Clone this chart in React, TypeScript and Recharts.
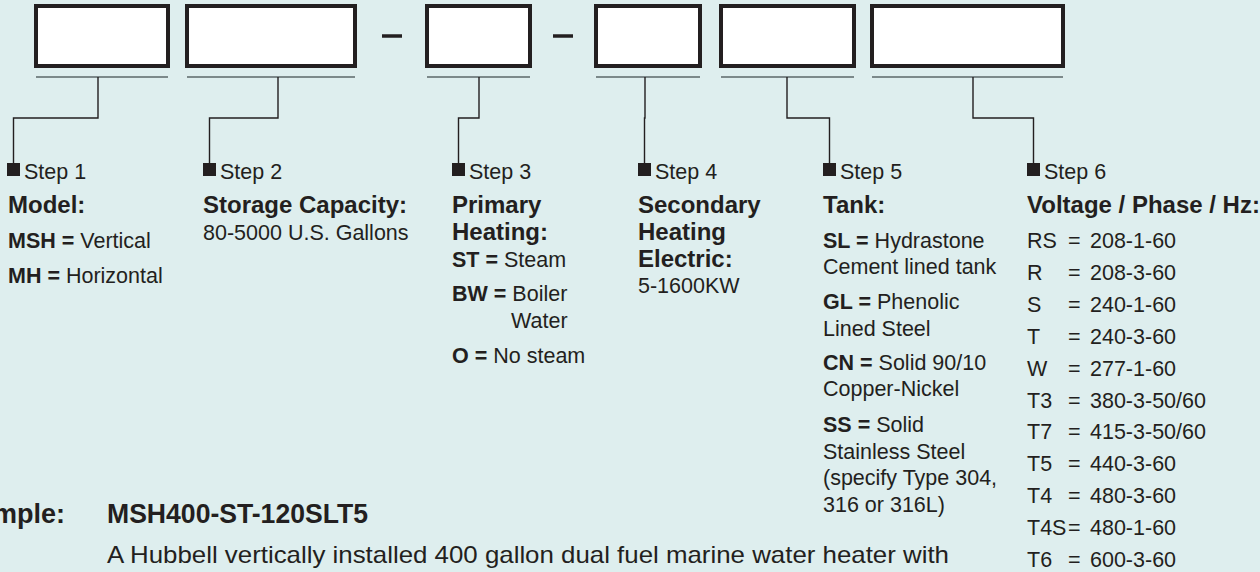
import React from "react";
import {
  ComposedChart,
  XAxis,
  YAxis,
  Line,
  Scatter,
  ReferenceArea,
  ReferenceLine,
} from "recharts";

const W = 1260;
const H = 572;
const INK = "#231f20";
const RULE = "#5b6769";
const BG = "#deeeee";
const FONT = "'Liberation Sans', Arial, Helvetica, sans-serif";
const NARROW = "'Liberation Sans Narrow', 'Liberation Sans', Arial, sans-serif";

// ---- content ----
const stepLabels = ["Step 1", "Step 2", "Step 3", "Step 4", "Step 5", "Step 6"];
const stepHeadings = [
  ["Model:"],
  ["Storage Capacity:"],
  ["Primary", "Heating:"],
  ["Secondary", "Heating", "Electric:"],
  ["Tank:"],
  ["Voltage / Phase / Hz:"],
];
const modelOptions = [
  { code: "MSH =", text: ["Vertical"] },
  { code: "MH =", text: ["Horizontal"] },
];
const capacityRange = "80-5000 U.S. Gallons";
const primaryOptions = [
  { code: "ST =", text: ["Steam"] },
  { code: "BW =", text: ["Boiler", "Water"] },
  { code: "O =", text: ["No steam"] },
];
const secondaryRange = "5-1600KW";
const tankOptions = [
  { code: "SL =", text: ["Hydrastone", "Cement lined tank"] },
  { code: "GL =", text: ["Phenolic", "Lined Steel"] },
  { code: "CN =", text: ["Solid 90/10", "Copper-Nickel"] },
  { code: "SS =", text: ["Solid", "Stainless Steel", "(specify Type 304,", "316 or 316L)"] },
];
const voltageCodes = ["RS", "R", "S", "T", "W", "T3", "T7", "T5", "T4", "T4S", "T6"];
const voltageValues = [
  "208-1-60", "208-3-60", "240-1-60", "240-3-60", "277-1-60", "380-3-50/60",
  "415-3-50/60", "440-3-60", "480-3-60", "480-1-60", "600-3-60",
];
const exampleLabel = "Example:";
const exampleCode = "MSH400-ST-120SLT5";
const exampleText =
  "A Hubbell vertically installed 400 gallon dual fuel marine water heater with";

// ---- layout ----
const BOX_L = [34, 185, 425, 594, 719, 870];
const BOX_R = [170, 357, 532, 702, 856, 1065];
const BOX_TOP = 4;
const BOX_BOT = 68;
const BORDER = 4;
const RULE_Y = 77;
const ELBOW_Y = 118;
const DROP_X = [98, 278, 479, 645, 787, 973];
const COL_X = [7, 203, 452, 638, 823, 1027];
const MARK = 13;
const MARK_TOP = 163;
const DASH_X = [[382, 402], [553, 573]];
const DASH_Y = 36;
const STEP_Y = 179;
const HEAD_Y = [213, 240, 267];
const MODEL_Y = [[248], [283]];
const CAPACITY_Y = 240;
const PRIMARY_Y = [[267], [301, 328], [363]];
const PRIMARY_INDENT = 511;
const SECONDARY_Y = 293;
const TANK_Y = [[248, 274], [309, 336], [370, 396], [432, 459, 485, 512]];
const VOLT_Y0 = 248;
const VOLT_STEP = 31.9;
const EXAMPLE_Y = 523;
const EXAMPLE_X = 107;
const EXAMPLE_TEXT_Y = 563;

type TextRow = { x: number; y: number; code?: string; text: string };

function optionRows(
  colX: number,
  opts: { code: string; text: string[] }[],
  ys: number[][],
  indent?: number
): TextRow[] {
  const rows: TextRow[] = [];
  opts.forEach((o, i) => {
    o.text.forEach((t, j) => {
      if (j === 0) rows.push({ x: colX, y: ys[i][j], code: o.code, text: " " + t });
      else rows.push({ x: indent ?? colX, y: ys[i][j], text: t });
    });
  });
  return rows;
}

const bodyRows: TextRow[] = [
  ...optionRows(COL_X[0] + 1, modelOptions, MODEL_Y),
  { x: COL_X[1], y: CAPACITY_Y, text: capacityRange },
  ...optionRows(COL_X[2], primaryOptions, PRIMARY_Y, PRIMARY_INDENT),
  { x: COL_X[3], y: SECONDARY_Y, text: secondaryRange },
  ...optionRows(COL_X[4], tankOptions, TANK_Y),
];

const headRows: TextRow[] = stepHeadings.flatMap((lines, i) =>
  lines.map((t, j) => ({ x: COL_X[i] + (i === 0 ? 1 : 0), y: HEAD_Y[j], text: t }))
);

const stepRows: TextRow[] = stepLabels.map((t, i) => ({
  x: COL_X[i] + MARK + 4,
  y: STEP_Y,
  text: t,
}));

const markers = COL_X.map((x) => ({ x: x + MARK / 2, y: MARK_TOP + MARK / 2 }));

const voltRows = voltageCodes.map((c, i) => ({
  x: COL_X[5],
  y: VOLT_Y0 + VOLT_STEP * i,
  code: c,
  text: voltageValues[i],
}));

const connectors = DROP_X.map((dx, i) => {
  const mx = COL_X[i] + MARK / 2;
  return [
    { x: dx, y: RULE_Y },
    { x: dx, y: ELBOW_Y },
    { x: mx, y: ELBOW_Y },
    { x: mx, y: MARK_TOP },
  ];
});

const renderPlain = (size: number, weight: number) => (p: any) => {
  const d = p.payload as TextRow;
  return (
    <text x={p.cx} y={p.cy} fontSize={size} fontWeight={weight} fontFamily={FONT} fill={INK}>
      {d.code ? <tspan fontWeight={700}>{d.code}</tspan> : null}
      {d.text}
    </text>
  );
};

const renderVolt = (p: any) => {
  const d = p.payload as TextRow;
  return (
    <g fontSize={21.5} fontFamily={FONT} fill={INK}>
      <text x={p.cx} y={p.cy}>{d.code}</text>
      <text x={p.cx + 41} y={p.cy}>=</text>
      <text x={p.cx + 63} y={p.cy}>{d.text}</text>
    </g>
  );
};

const renderMarker = (p: any) => (
  <rect x={p.cx - MARK / 2} y={p.cy - MARK / 2} width={MARK} height={MARK} fill={INK} />
);

export default function App() {
  return (
    <div style={{ position: "absolute", left: 0, top: 0, width: W, height: H, background: BG, overflow: "hidden" }}>
      <ComposedChart width={W} height={H} margin={{ top: 0, right: 0, bottom: 0, left: 0 }}>
        <XAxis type="number" dataKey="x" domain={[0, W]} hide allowDataOverflow />
        <YAxis type="number" dataKey="y" domain={[0, H]} reversed hide allowDataOverflow />

        {BOX_L.map((l, i) => (
          <ReferenceArea
            key={`box${i}`}
            x1={l + BORDER / 2}
            x2={BOX_R[i] - BORDER / 2}
            y1={BOX_TOP + BORDER / 2}
            y2={BOX_BOT - BORDER / 2}
            fill="#ffffff"
            fillOpacity={1}
            stroke={INK}
            strokeWidth={BORDER}
          />
        ))}
        {BOX_L.map((l, i) => (
          <ReferenceLine
            key={`rule${i}`}
            segment={[{ x: l + 2, y: RULE_Y }, { x: BOX_R[i] - 2, y: RULE_Y }]}
            stroke={RULE}
            strokeWidth={1.6}
          />
        ))}
        {DASH_X.map(([a, b], i) => (
          <ReferenceLine
            key={`dash${i}`}
            segment={[{ x: a, y: DASH_Y }, { x: b, y: DASH_Y }]}
            stroke={INK}
            strokeWidth={3.5}
          />
        ))}
        {connectors.map((pts, i) => (
          <Line
            key={`conn${i}`}
            data={pts}
            dataKey="y"
            type="linear"
            stroke={INK}
            strokeWidth={1.4}
            strokeLinejoin="miter"
            dot={false}
            activeDot={false}
            isAnimationActive={false}
          />
        ))}

        <Scatter data={markers} shape={renderMarker} isAnimationActive={false} />
        <Scatter data={stepRows} shape={renderPlain(21.5, 400)} isAnimationActive={false} />
        <Scatter data={headRows} shape={renderPlain(24, 700)} isAnimationActive={false} />
        <Scatter data={bodyRows} shape={renderPlain(21.5, 400)} isAnimationActive={false} />
        <Scatter data={voltRows} shape={renderVolt} isAnimationActive={false} />
        <Scatter
          data={[{ x: 65, y: EXAMPLE_Y, text: exampleLabel }]}
          isAnimationActive={false}
          shape={(p: any) => (
            <text x={p.cx} y={p.cy} textAnchor="end" fontSize={27} fontWeight={700} fontFamily={NARROW} fill={INK}>
              {p.payload.text}
            </text>
          )}
        />
        <Scatter
          data={[{ x: EXAMPLE_X, y: EXAMPLE_Y, text: exampleCode }]}
          isAnimationActive={false}
          shape={(p: any) => (
            <text x={p.cx} y={p.cy} fontSize={27} fontWeight={700} fontFamily={NARROW} fill={INK} textLength={261} lengthAdjust="spacingAndGlyphs">
              {p.payload.text}
            </text>
          )}
        />
        <Scatter
          data={[{ x: EXAMPLE_X, y: EXAMPLE_TEXT_Y, text: exampleText }]}
          isAnimationActive={false}
          shape={(p: any) => (
            <text x={p.cx} y={p.cy} fontSize={24} fontFamily={FONT} fill={INK} textLength={842} lengthAdjust="spacingAndGlyphs">
              {p.payload.text}
            </text>
          )}
        />
      </ComposedChart>
    </div>
  );
}
